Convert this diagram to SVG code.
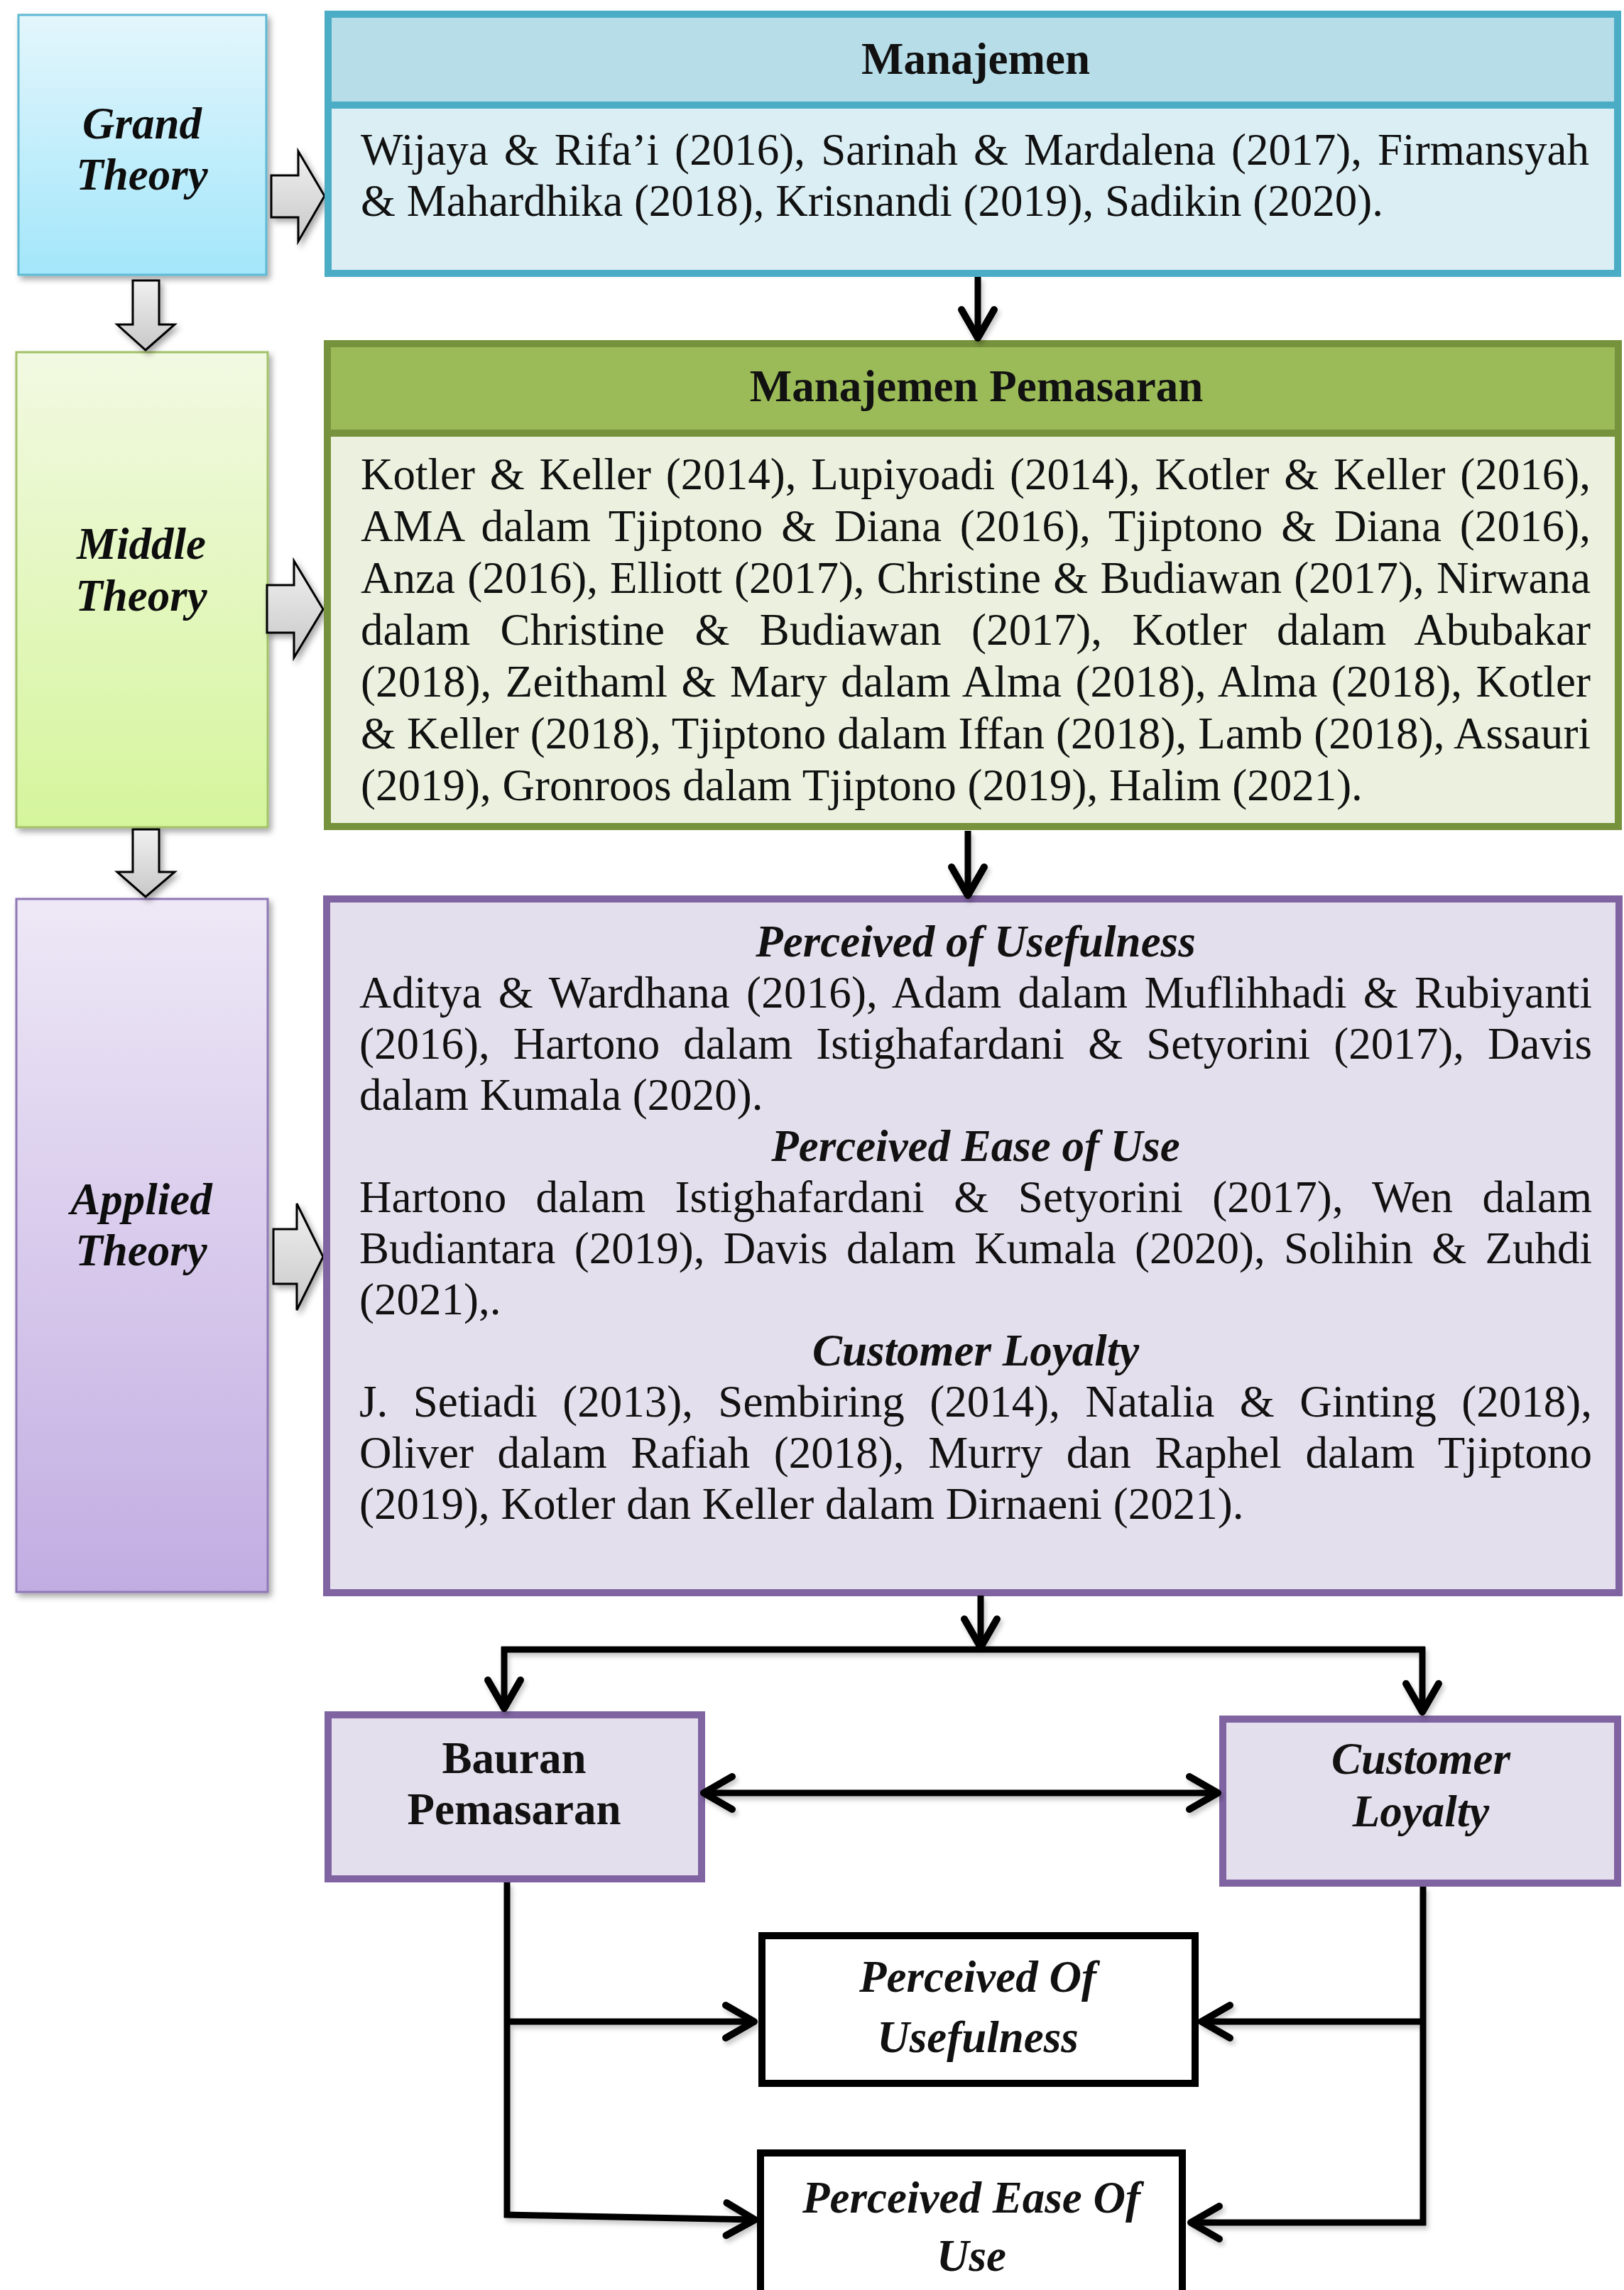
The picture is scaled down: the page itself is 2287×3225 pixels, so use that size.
<svg xmlns="http://www.w3.org/2000/svg" width="2287" height="3225" viewBox="0 0 2287 3225">
<style>
  text { font-family: "Liberation Serif", "Times New Roman", serif; font-size: 63px; fill: #111; }
  .b { font-weight: bold; }
  .bi { font-weight: bold; font-style: italic; }
  .c { text-anchor: middle; }
  .conn { stroke: #000; stroke-width: 9; fill: none; }
  .hollow { fill: url(#gArrow); stroke: #000; stroke-width: 3; stroke-linejoin: miter; }
</style>
<defs>
  <linearGradient id="gGrand" x1="0" y1="0" x2="0" y2="1"><stop offset="0" stop-color="#e3f6fc"/><stop offset="1" stop-color="#a3e6fa"/></linearGradient>
  <linearGradient id="gMid" x1="0" y1="0" x2="0" y2="1"><stop offset="0" stop-color="#f2f9e2"/><stop offset="1" stop-color="#d5f59c"/></linearGradient>
  <linearGradient id="gApp" x1="0" y1="0" x2="0" y2="1"><stop offset="0" stop-color="#eee8f6"/><stop offset="1" stop-color="#c2ade2"/></linearGradient>
  <linearGradient id="gArrow" x1="0" y1="0" x2="0" y2="1"><stop offset="0" stop-color="#f0f0f0"/><stop offset="1" stop-color="#c8c8c8"/></linearGradient>
  <filter id="sh" x="-20%" y="-20%" width="150%" height="150%"><feDropShadow dx="4" dy="5" stdDeviation="4" flood-color="#000" flood-opacity="0.35"/></filter>
  <filter id="lsh" x="-20%" y="-20%" width="150%" height="150%"><feDropShadow dx="3" dy="5" stdDeviation="3" flood-color="#000" flood-opacity="0.22"/></filter>
  <marker id="v" viewBox="-50 -30 60 60" refX="0" refY="0" markerWidth="60" markerHeight="60" markerUnits="userSpaceOnUse" orient="auto-start-reverse" overflow="visible">
    <path d="M-40,-23 L0,0 L-40,23" fill="none" stroke="#000" stroke-width="10" stroke-linecap="round" stroke-linejoin="round"/>
  </marker>
</defs>
<rect width="2287" height="3225" fill="#fff"/>

<g id="grand-theory" filter="url(#sh)">
  <rect x="26" y="21" width="349" height="366" fill="url(#gGrand)" stroke="#5fb9d3" stroke-width="3"/>
  <text class="bi c" x="200" y="195">Grand</text>
  <text class="bi c" x="200" y="267">Theory</text>
</g>
<g id="middle-theory" filter="url(#sh)">
  <rect x="23" y="496" width="354" height="669" fill="url(#gMid)" stroke="#a2c269" stroke-width="3"/>
  <text class="bi c" x="199" y="787">Middle</text>
  <text class="bi c" x="199" y="860">Theory</text>
</g>
<g id="applied-theory" filter="url(#sh)">
  <rect x="23" y="1266" width="354" height="976" fill="url(#gApp)" stroke="#8f78b6" stroke-width="3"/>
  <text class="bi c" x="199" y="1710">Applied</text>
  <text class="bi c" x="199" y="1782">Theory</text>
</g>

<g id="hollow-arrows" filter="url(#sh)">
  <polygon class="hollow" points="187,395 224,395 224,457 246,457 205,493 165,457 187,457"/>
  <polygon class="hollow" points="187,1168 224,1168 224,1228 246,1228 205,1263 165,1228 187,1228"/>
  <polygon class="hollow" points="382,247 420,247 420,213 457,276 420,340 420,306 382,306"/>
  <polygon class="hollow" points="376,824 414,824 414,790 455,858 414,926 414,891 376,891"/>
  <polygon class="hollow" points="385,1731 418,1731 418,1695 455,1770 418,1845 418,1808 385,1808"/>
</g>

<g id="manajemen">
  <rect x="462" y="20" width="1816" height="128" fill="#b7dde8"/>
  <rect x="462" y="148" width="1816" height="237" fill="#dbeef4"/>
  <rect x="462" y="20" width="1816" height="365" fill="none" stroke="#4bacc6" stroke-width="10"/>
  <line x1="462" y1="148" x2="2278" y2="148" stroke="#4bacc6" stroke-width="10"/>
  <text class="b c" x="1374" y="104">Manajemen</text>
  <text x="508" y="232" style="word-spacing:6.2px" textLength="1730" lengthAdjust="spacing">Wijaya &amp; Rifa’i (2016), Sarinah &amp; Mardalena (2017), Firmansyah</text>
  <text x="508" y="304">&amp; Mahardhika (2018), Krisnandi (2019), Sadikin (2020).</text>
</g>

<g id="manajemen-pemasaran">
  <rect x="461" y="484" width="1818" height="126" fill="#9bbb59"/>
  <rect x="461" y="610" width="1818" height="554" fill="#ebf1de"/>
  <rect x="461" y="484" width="1818" height="680" fill="none" stroke="#76923c" stroke-width="10"/>
  <line x1="461" y1="610" x2="2279" y2="610" stroke="#76923c" stroke-width="10"/>
  <text class="b c" x="1375" y="565">Manajemen Pemasaran</text>
  <text x="508" y="689" style="word-spacing:5px" textLength="1732" lengthAdjust="spacing">Kotler &amp; Keller (2014), Lupiyoadi (2014), Kotler &amp; Keller (2016),</text>
  <text x="508" y="762" style="word-spacing:9.9px" textLength="1732" lengthAdjust="spacing">AMA dalam Tjiptono &amp; Diana (2016), Tjiptono &amp; Diana (2016),</text>
  <text x="508" y="835" style="word-spacing:1.5px" textLength="1732" lengthAdjust="spacing">Anza (2016), Elliott (2017), Christine &amp; Budiawan (2017), Nirwana</text>
  <text x="508" y="908" style="word-spacing:26.5px" textLength="1732" lengthAdjust="spacing">dalam Christine &amp; Budiawan (2017), Kotler dalam Abubakar</text>
  <text x="508" y="981" style="word-spacing:3.5px" textLength="1732" lengthAdjust="spacing">(2018), Zeithaml &amp; Mary dalam Alma (2018), Alma (2018), Kotler</text>
  <text x="508" y="1054" textLength="1732" lengthAdjust="spacing">&amp; Keller (2018), Tjiptono dalam Iffan (2018), Lamb (2018), Assauri</text>
  <text x="508" y="1127">(2019), Gronroos dalam Tjiptono (2019), Halim (2021).</text>
</g>

<g id="applied-content">
  <rect x="460" y="1266" width="1820" height="977" fill="#e4dfec" stroke="#8064a2" stroke-width="10"/>
  <text class="bi c" x="1374" y="1347">Perceived of Usefulness</text>
  <text x="506" y="1419" style="word-spacing:7.2px" textLength="1736" lengthAdjust="spacing">Aditya &amp; Wardhana (2016), Adam dalam Muflihhadi &amp; Rubiyanti</text>
  <text x="506" y="1491" style="word-spacing:17.3px" textLength="1736" lengthAdjust="spacing">(2016), Hartono dalam Istighafardani &amp; Setyorini (2017), Davis</text>
  <text x="506" y="1563">dalam Kumala (2020).</text>
  <text class="bi c" x="1374" y="1635">Perceived Ease of Use</text>
  <text x="506" y="1707" style="word-spacing:25.5px" textLength="1736" lengthAdjust="spacing">Hartono dalam Istighafardani &amp; Setyorini (2017), Wen dalam</text>
  <text x="506" y="1779" style="word-spacing:10.5px" textLength="1736" lengthAdjust="spacing">Budiantara (2019), Davis dalam Kumala (2020), Solihin &amp; Zuhdi</text>
  <text x="506" y="1851">(2021),.</text>
  <text class="bi c" x="1374" y="1923">Customer Loyalty</text>
  <text x="506" y="1995" style="word-spacing:19.7px" textLength="1736" lengthAdjust="spacing">J. Setiadi (2013), Sembiring (2014), Natalia &amp; Ginting (2018),</text>
  <text x="506" y="2067" style="word-spacing:17.75px" textLength="1736" lengthAdjust="spacing">Oliver dalam Rafiah (2018), Murry dan Raphel dalam Tjiptono</text>
  <text x="506" y="2139">(2019), Kotler dan Keller dalam Dirnaeni (2021).</text>
</g>

<g id="bauran-pemasaran">
  <rect x="462" y="2415" width="526" height="231" fill="#e4dfec" stroke="#8064a2" stroke-width="10"/>
  <text class="b c" x="724" y="2497">Bauran</text>
  <text class="b c" x="724" y="2569">Pemasaran</text>
</g>
<g id="customer-loyalty">
  <rect x="1722" y="2421" width="556" height="231" fill="#e4dfec" stroke="#8064a2" stroke-width="10"/>
  <text class="bi c" x="2001" y="2498">Customer</text>
  <text class="bi c" x="2001" y="2572">Loyalty</text>
</g>
<g id="perceived-usefulness">
  <rect x="1073" y="2726" width="610" height="208" fill="#fff" stroke="#000" stroke-width="10"/>
  <text class="bi c" x="1377" y="2805">Perceived Of</text>
  <text class="bi c" x="1377" y="2890">Usefulness</text>
</g>
<g id="perceived-ease">
  <rect x="1071" y="3032" width="594" height="230" fill="#fff" stroke="#000" stroke-width="10"/>
  <text class="bi c" x="1368" y="3116">Perceived Ease Of</text>
  <text class="bi c" x="1368" y="3198">Use</text>
</g>

<g id="connectors" filter="url(#lsh)">
  <path class="conn" d="M1377,390 V476" marker-end="url(#v)"/>
  <path class="conn" d="M1363,1170 V1261" marker-end="url(#v)"/>
  <path class="conn" d="M1381,2247 V2320" marker-end="url(#v)"/>
  <path class="conn" d="M706,2323 H2007"/>
  <path class="conn" d="M710,2319 V2406" marker-end="url(#v)"/>
  <path class="conn" d="M2003,2319 V2411" marker-end="url(#v)"/>
  <path class="conn" d="M991,2525 H1715" marker-start="url(#v)" marker-end="url(#v)"/>
  <path class="conn" d="M714,2651 V3123"/>
  <path class="conn" d="M710,2847 H1062" marker-end="url(#v)"/>
  <path class="conn" d="M710,3119 L1063,3126" marker-end="url(#v)"/>
  <path class="conn" d="M2004,2657 V3134"/>
  <path class="conn" d="M2008,2847 H1692" marker-end="url(#v)"/>
  <path class="conn" d="M2008,3130 H1677" marker-end="url(#v)"/>
</g>
</svg>
